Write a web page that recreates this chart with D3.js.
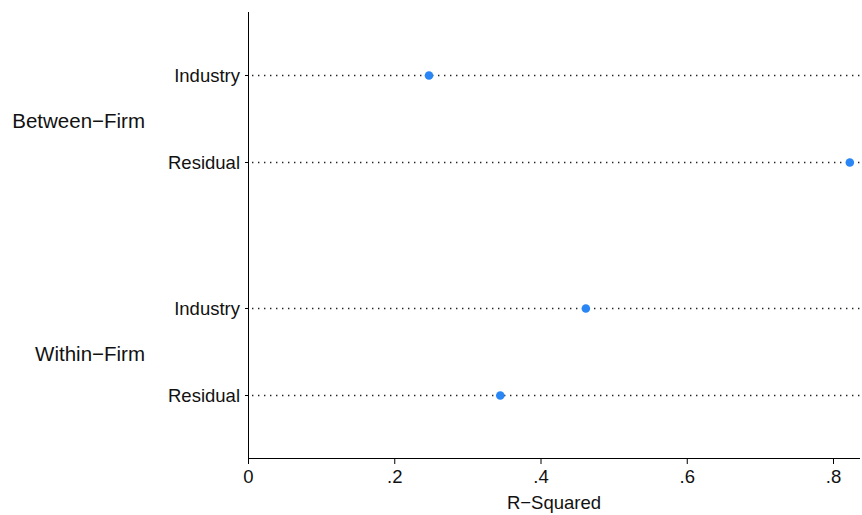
<!DOCTYPE html>
<html>
<head>
<meta charset="utf-8">
<script src="https://cdn.jsdelivr.net/npm/d3@7"></script>
<style>
  html, body { margin: 0; padding: 0; background: #fff; }
  svg { display: block; font-family: "Liberation Sans", Arial, Helvetica, sans-serif; }
</style>
</head>
<body>
<svg id="chart" width="862" height="515"></svg>
<script>
// Groups, rows within each group, and R-squared values
const groups = ["Between\u2212Firm", "Within\u2212Firm"];
const rows = ["Industry", "Residual"];
const betweenValues = [0.2475, 0.823];
const withinValues = [0.462, 0.345];
const xTicks = [0, 0.2, 0.4, 0.6, 0.8];
const xTickLabels = ["0", ".2", ".4", ".6", ".8"];
const xTitle = "R\u2212Squared";

(function () {
  const data = [
    ...rows.map((r, i) => ({ group: groups[0], row: r, value: betweenValues[i] })),
    ...rows.map((r, i) => ({ group: groups[1], row: r, value: withinValues[i] }))
  ];

  const svg = d3.select("#chart");
  const plotLeft = 248, plotRight = 860, plotTop = 12, plotBottom = 458;
  const fs = 18.5;
  const groupFs = 20.5;

  const x = d3.scaleLinear().domain([0, 0.8]).range([plotLeft, 833]);

  const yGroup = d3.scaleBand().domain(groups).range([2, 468]).padding(0);
  const yRow = d3.scalePoint().domain(rows).range([0, yGroup.bandwidth()]).padding(0.839);
  const yPos = d => yGroup(d.group) + yRow(d.row);

  const blue = "#2a86f5";

  // dotted guide lines across the plot
  svg.append("g").selectAll("line").data(data).join("line")
    .attr("x1", plotLeft + 4).attr("x2", plotRight)
    .attr("y1", d => yPos(d) + 0.5).attr("y2", d => yPos(d) + 0.5)
    .attr("stroke", "#222").attr("stroke-width", 1.4)
    .attr("stroke-dasharray", "1.4,4.6");

  // y axis line and small ticks
  svg.append("line").attr("x1", plotLeft + 0.5).attr("x2", plotLeft + 0.5)
    .attr("y1", plotTop).attr("y2", plotBottom + 1)
    .attr("stroke", "#000").attr("stroke-width", 1);
  svg.append("g").selectAll("line").data(data).join("line")
    .attr("x1", plotLeft - 3).attr("x2", plotLeft)
    .attr("y1", d => yPos(d) + 0.5).attr("y2", d => yPos(d) + 0.5)
    .attr("stroke", "#000").attr("stroke-width", 1);

  // row labels
  svg.append("g").selectAll("text").data(data).join("text")
    .attr("x", 240).attr("y", d => yPos(d) + 1)
    .attr("dy", "0.35em").attr("text-anchor", "end")
    .attr("font-size", fs).attr("fill", "#111")
    .text(d => d.row);

  // group labels
  svg.append("g").selectAll("text").data(groups).join("text")
    .attr("x", 145).attr("y", g => yGroup(g) + yGroup.bandwidth() / 2 + 2)
    .attr("dy", "0.35em").attr("text-anchor", "end")
    .attr("font-size", groupFs).attr("fill", "#111")
    .text(g => g);

  // x axis
  const xAxis = d3.axisBottom(x).tickValues(xTicks)
    .tickFormat((d, i) => xTickLabels[i]).tickSize(6).tickSizeOuter(0);
  const gx = svg.append("g").attr("transform", `translate(0,${plotBottom})`).call(xAxis);
  gx.select(".domain").attr("d", `M${plotLeft},0.5H${plotRight}`).attr("stroke", "#000");
  gx.selectAll(".tick line").attr("stroke", "#000");
  gx.selectAll(".tick text").attr("font-size", fs).attr("fill", "#111")
    .attr("font-family", "Liberation Sans, Arial, sans-serif")
    .attr("y", 19).attr("dy", "0.35em");

  svg.append("text").attr("x", (plotLeft + plotRight) / 2).attr("y", 503)
    .attr("dy", "0.35em")
    .attr("text-anchor", "middle").attr("font-size", fs).attr("fill", "#111")
    .text(xTitle);

  // markers
  svg.append("g").selectAll("circle").data(data).join("circle")
    .attr("cx", d => x(d.value)).attr("cy", d => yPos(d) + 0.5)
    .attr("r", 4.3).attr("fill", blue);
})();
</script>
</body>
</html>
